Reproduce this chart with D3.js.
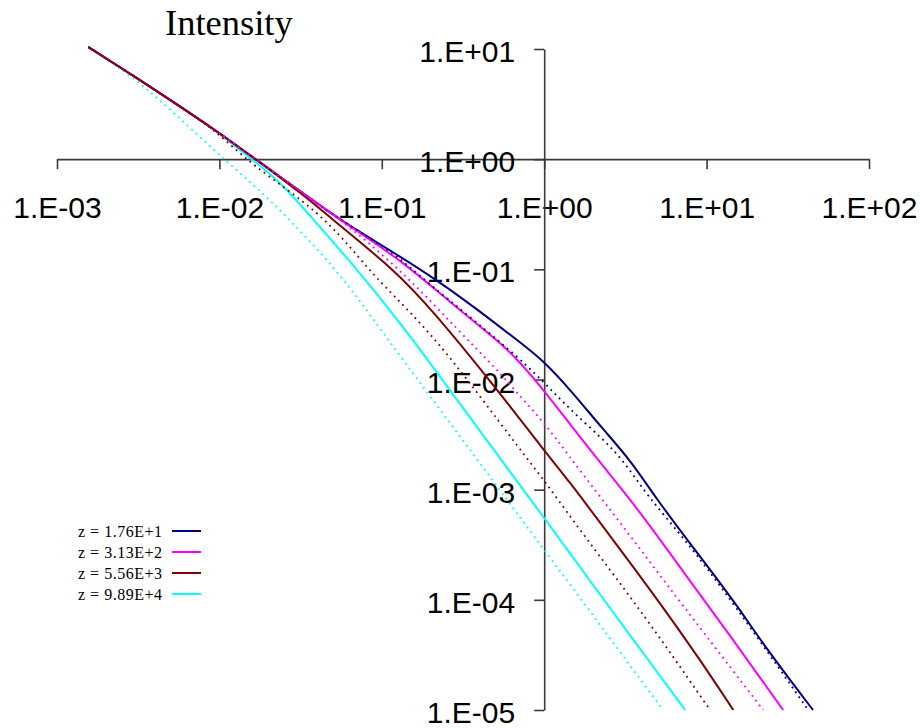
<!DOCTYPE html>
<html>
<head>
<meta charset="utf-8">
<script src="https://cdn.jsdelivr.net/npm/d3@7"></script>
<style>
  html, body { margin: 0; padding: 0; background: #fff; }
  svg { display: block; }
</style>
</head>
<body>
<svg id="chart" width="920" height="728"></svg>
<script>
// Axis tick values (log decades)
const xTicks = [1e-3, 1e-2, 1e-1, 1e0, 1e1, 1e2];
const yTicks = [1e1, 1e0, 1e-1, 1e-2, 1e-3, 1e-4, 1e-5];

// Legend entries
const seriesLabels = ["z = 1.76E+1", "z = 3.13E+2", "z = 5.56E+3", "z = 9.89E+4"];
const seriesColors = ["#000080", "#ff00ff", "#800000", "#00ffff"];

// Common initial branch shared by the profiles
const sharedHead = [[0.00156, 10.4], [0.00296, 5.7], [0.00521, 3.3], [0.00944, 1.84]];

// z = 1.76E+1
const z1Solid = [...sharedHead, [0.0167, 1.0], [0.0315, 0.51], [0.058, 0.267], [0.118, 0.143],
  [0.229, 0.0762], [0.387, 0.0433], [0.711, 0.0217], [1.0, 0.0146], [1.445, 0.0081],
  [2.31, 0.00351], [3.38, 0.00187], [4.96, 8.1e-4], [7.59, 3.51e-4], [14.6, 1.0e-4],
  [23.6, 3.5e-5], [45.2, 1e-5]];
const z1Dotted = [...sharedHead, [0.0167, 1.0], [0.0315, 0.51], [0.058, 0.267], [0.118, 0.143],
  [0.18, 0.081], [0.618, 0.0187], [1.0, 0.0094], [1.445, 0.00533], [2.21, 0.00303],
  [3.06, 0.00187], [4.36, 8.6e-4], [7.17, 3.7e-4], [14.2, 1.0e-4], [42.2, 1e-5]];

// z = 3.13E+2
const z2Solid = [...sharedHead, [0.0167, 1.0], [0.0315, 0.51], [0.058, 0.267],
  [0.130, 0.123], [0.264, 0.0501], [0.536, 0.0217], [0.711, 0.01428], [1.0, 0.00794],
  [1.445, 0.0039], [2.21, 0.00176], [3.9, 6.3e-4], [7.17, 1.8e-4], [14.6, 4.33e-5],
  [29.6, 1e-5]];
const z2Dotted = [...sharedHead, [0.0167, 1.0], [0.0315, 0.51], [0.064, 0.245],
  [0.15, 0.0811], [0.291, 0.0285], [0.514, 0.0123], [0.711, 0.007], [1.0, 0.00406],
  [1.386, 0.00212], [2.21, 8.63e-4], [3.53, 3.51e-4], [5.71, 1.37e-4], [9.12, 5.56e-5],
  [22.3, 1e-5]];

// z = 5.56E+3
const z3Solid = [...sharedHead, [0.0167, 1.0], [0.0315, 0.5], [0.058, 0.235], [0.118, 0.1],
  [0.2, 0.0445], [0.514, 0.0081], [1.0, 0.00226], [1.445, 0.00116], [2.21, 5.0e-4],
  [3.53, 2.0e-4], [5.71, 7.6e-5], [9.12, 2.85e-5], [14.6, 1e-5]];
const z3Dotted = [...sharedHead, [0.0155, 0.901], [0.0419, 0.33], [0.0738, 0.123],
  [0.098, 0.0762], [0.199, 0.0268], [0.387, 0.00762], [0.711, 0.00231], [1.0, 0.00121],
  [1.51, 5.22e-4], [2.21, 2.46e-4], [3.53, 9.8e-5], [5.71, 3.66e-5], [10.5, 1e-5]];

// z = 9.89E+4
const z4Solid = [...sharedHead, [0.01486, 1.065], [0.0237, 0.631], [0.0401, 0.2565],
  [0.064, 0.118], [0.130, 0.033], [0.264, 0.00794], [0.536, 0.00191], [1.0, 5.56e-4],
  [2.21, 1.11e-4], [3.9, 3.59e-5], [7.38, 1e-5]];
const z4Dotted = [[0.00156, 10.4], [0.00296, 5.56], [0.00521, 2.67], [0.0106, 1.0],
  [0.0197, 0.461], [0.0532, 0.1], [0.098, 0.0285], [0.199, 0.007], [0.404, 1.72e-3],
  [0.682, 6.05e-4], [1.136, 2.21e-4], [2.21, 5.93e-5], [3.53, 2.31e-5], [5.40, 1e-5]];

const solidSeries = [z1Solid, z2Solid, z3Solid, z4Solid];
const dottedSeries = [z1Dotted, z2Dotted, z3Dotted, z4Dotted];

const svg = d3.select("#chart");

const x = d3.scaleLog().domain([1e-3, 1e2]).range([57, 869]);
const y = d3.scaleLog().domain([1e-5, 1e1]).range([710, 49]);

// Exponent labels like 1.E-03 / 1.E+01
const expFormat = v => {
  const e = Math.round(Math.log10(v));
  return "1.E" + (e < 0 ? "-" : "+") + String(Math.abs(e)).padStart(2, "0");
};

const axisColor = "#3a3a3a";
const tickFont = "'Liberation Sans', Arial, sans-serif";

// Horizontal axis crossing at y = 1
const gx = svg.append("g")
  .attr("transform", `translate(0,${y(1)})`)
  .call(d3.axisBottom(x).tickValues(xTicks).tickFormat(expFormat)
    .tickSize(10).tickSizeOuter(0).tickPadding(28));
gx.select(".domain").attr("stroke", axisColor).attr("stroke-width", 1.6);
gx.selectAll(".tick line").attr("stroke", axisColor).attr("stroke-width", 1.6);
gx.selectAll(".tick text").attr("font-family", tickFont).attr("font-size", 30).attr("fill", "#000");

// Vertical axis crossing at x = 1
const gy = svg.append("g")
  .attr("transform", `translate(${x(1)},0)`)
  .call(d3.axisLeft(y).tickValues(yTicks).tickFormat(expFormat)
    .tickSize(10).tickSizeOuter(0).tickPadding(19));
gy.select(".domain").attr("stroke", axisColor).attr("stroke-width", 1.6);
gy.selectAll(".tick line").attr("stroke", axisColor).attr("stroke-width", 1.6);
gy.selectAll(".tick text").attr("font-family", tickFont).attr("font-size", 30)
  .attr("fill", "#000").attr("dy", "0.42em");

// Profiles
const line = d3.line()
  .x(d => x(d[0]))
  .y(d => y(d[1]))
  .curve(d3.curveBasis);

const curves = svg.append("g").attr("fill", "none");
const drawOrder = [3, 0, 1, 2];
drawOrder.forEach(i => {
  curves.append("path")
    .attr("d", line(solidSeries[i]))
    .attr("stroke", seriesColors[i])
    .attr("stroke-width", 2);
});
drawOrder.forEach(i => {
  curves.append("path")
    .attr("d", line(dottedSeries[i]))
    .attr("stroke", seriesColors[i])
    .attr("stroke-width", 1.8)
    .attr("stroke-dasharray", "1.8 4.2");
});

// Title
svg.append("text")
  .attr("x", 165)
  .attr("y", 35)
  .attr("font-family", "'Liberation Serif', 'Times New Roman', serif")
  .attr("font-size", 36.5)
  .attr("fill", "#000")
  .text("Intensity");

// Legend
const legend = svg.append("g");
seriesLabels.forEach((label, i) => {
  const cy = 531 + i * 21;
  legend.append("text")
    .attr("x", 78)
    .attr("y", cy + 5.5)
    .attr("font-family", "'Liberation Serif', 'Times New Roman', serif")
    .attr("font-size", 16)
    .attr("letter-spacing", 0.5)
    .attr("fill", "#000")
    .text(label);
  legend.append("line")
    .attr("x1", 172).attr("x2", 201)
    .attr("y1", cy).attr("y2", cy)
    .attr("stroke", seriesColors[i])
    .attr("stroke-width", 2);
});
</script>
</body>
</html>
